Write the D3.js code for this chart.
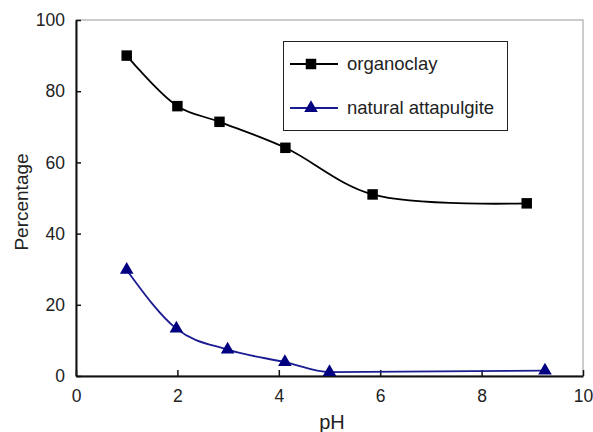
<!DOCTYPE html>
<html>
<head>
<meta charset="utf-8">
<script src="https://cdn.jsdelivr.net/npm/d3@7"></script>
<style>
  html, body { margin: 0; padding: 0; background: #fff; }
  svg { display: block; font-family: "Liberation Sans", Arial, Helvetica, sans-serif; }
</style>
</head>
<body>
<svg id="chart" width="593" height="432"></svg>
<script>
// Removal percentage versus pH for the two adsorbents
const organoclayPH = [1.0, 2.0, 2.83, 4.13, 5.85, 8.89];
const organoclayPct = [90.0, 75.8, 71.4, 64.1, 51.0, 48.5];
const attapulgitePH = [1.0, 1.98, 2.99, 4.12, 5.0, 9.25];
const attapulgitePct = [29.8, 13.3, 7.4, 3.9, 1.1, 1.5];

const seriesNames = ["organoclay", "natural attapulgite"];
const xTicks = [0, 2, 4, 6, 8, 10];
const yTicks = [0, 20, 40, 60, 80, 100];
const xTitle = "pH";
const yTitle = "Percentage";

(function draw() {
  const svg = d3.select("#chart");
  const pLeft = 76, pRight = 583, pTop = 20, pBottom = 376;

  const x = d3.scaleLinear().domain([0, 10]).range([pLeft, pRight]);
  const y = d3.scaleLinear().domain([0, 100]).range([pBottom, pTop]);

  // frame: light top/right, heavy left/bottom
  svg.append("rect")
    .attr("x", pLeft).attr("y", pTop)
    .attr("width", pRight - pLeft).attr("height", pBottom - pTop)
    .attr("fill", "none").attr("stroke", "#9a9a9a").attr("stroke-width", 1);

  const xAxis = svg.append("g")
    .attr("transform", `translate(0,${pBottom})`)
    .call(d3.axisBottom(x).tickValues(xTicks).tickSizeInner(-6).tickSizeOuter(0).tickPadding(14).tickFormat(d3.format("d")));
  const yAxis = svg.append("g")
    .attr("transform", `translate(${pLeft},0)`)
    .call(d3.axisLeft(y).tickValues(yTicks).tickSizeInner(-5).tickSizeOuter(0).tickPadding(11).tickFormat(d3.format("d")));

  [xAxis, yAxis].forEach(g => {
    g.select(".domain").attr("stroke", "#111").attr("stroke-width", 2);
    g.selectAll(".tick line").attr("stroke", "#111").attr("stroke-width", 1.5);
    g.selectAll(".tick text").attr("fill", "#222").style("font-size", "17.5px");
  });

  // axis titles
  svg.append("text")
    .attr("x", 332).attr("y", 429)
    .attr("text-anchor", "middle").attr("fill", "#222")
    .style("font-size", "20px").text(xTitle);
  svg.append("text")
    .attr("transform", `translate(28,202) rotate(-90)`)
    .attr("text-anchor", "middle").attr("fill", "#222")
    .style("font-size", "19px").text(yTitle);

  const smoothLine = d3.line().x(d => x(d[0])).y(d => y(d[1])).curve(d3.curveCatmullRom.alpha(0.5));
  const flatLine = d3.line().x(d => x(d[0])).y(d => y(d[1])).curve(d3.curveMonotoneX);

  const orgData = organoclayPH.map((p, i) => [p, organoclayPct[i]]);
  const attData = attapulgitePH.map((p, i) => [p, attapulgitePct[i]]);

  const blackCol = "#000000";
  const navyLine = "#1b1b92";
  const navyMark = "#000080";

  svg.append("path").datum(orgData)
    .attr("d", smoothLine).attr("fill", "none")
    .attr("stroke", blackCol).attr("stroke-width", 1.8);
  svg.append("path").datum(attData)
    .attr("d", flatLine).attr("fill", "none")
    .attr("stroke", navyLine).attr("stroke-width", 1.8);

  const square = d3.symbol().type(d3.symbolSquare).size(110);
  const triangle = d3.symbol().type(d3.symbolTriangle).size(80);

  svg.append("g").selectAll("path").data(orgData).join("path")
    .attr("transform", d => `translate(${x(d[0])},${y(d[1])})`)
    .attr("d", square).attr("fill", blackCol);
  svg.append("g").selectAll("path").data(attData).join("path")
    .attr("transform", d => `translate(${x(d[0])},${y(d[1])})`)
    .attr("d", triangle).attr("fill", navyMark);

  // legend
  const lg = svg.append("g");
  lg.append("rect")
    .attr("x", 283.5).attr("y", 41.5).attr("width", 224).attr("height", 89)
    .attr("fill", "#fff").attr("stroke", "#222").attr("stroke-width", 1);
  const legendRows = [
    { name: seriesNames[0], color: blackCol, mark: square, markColor: blackCol, yy: 64 },
    { name: seriesNames[1], color: navyLine, mark: triangle, markColor: navyMark, yy: 108 }
  ];
  legendRows.forEach(r => {
    lg.append("line").attr("x1", 290).attr("x2", 338).attr("y1", r.yy).attr("y2", r.yy)
      .attr("stroke", r.color).attr("stroke-width", 1.8);
    lg.append("path").attr("transform", `translate(311,${r.yy})`)
      .attr("d", r.mark).attr("fill", r.markColor);
    lg.append("text").attr("x", 347).attr("y", r.yy + 6)
      .attr("fill", "#222").style("font-size", "18.5px").text(r.name);
  });
})();
</script>
</body>
</html>
